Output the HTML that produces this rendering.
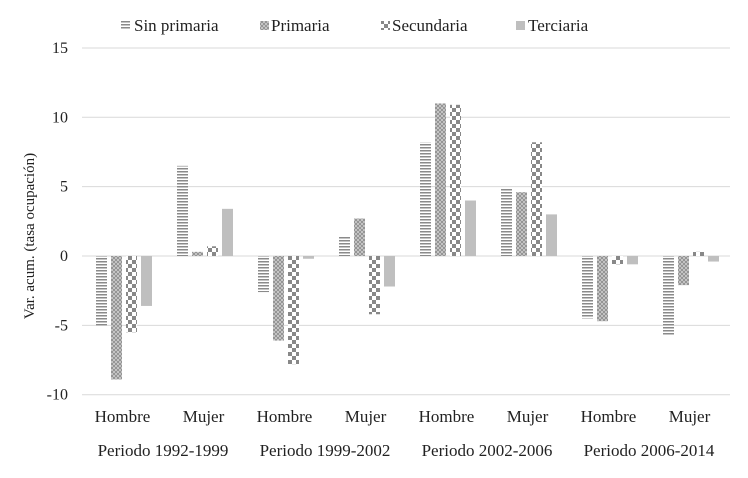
<!DOCTYPE html>
<html><head><meta charset="utf-8"><style>
body{margin:0;background:#fff;}
svg text{font-family:"Liberation Serif","DejaVu Serif",serif;fill:#222;}
</style></head><body>
<svg width="748" height="473" viewBox="0 0 748 473" font-family="Liberation Serif, serif">
<defs>
<pattern id="pH" width="4" height="3" patternUnits="userSpaceOnUse"><rect width="4" height="3" fill="#fff"/><rect width="4" height="1.5" fill="#8a8a8a"/></pattern>
<pattern id="pX" width="4" height="4" patternUnits="userSpaceOnUse"><rect width="4" height="4" fill="#d0d0d0"/><path d="M0 0L4 4M4 0L0 4" stroke="#8a8a8a" stroke-width="0.8"/></pattern>
<pattern id="pC" width="8" height="8" patternUnits="userSpaceOnUse"><rect width="8" height="8" fill="#fff"/><rect width="4" height="4" fill="#888"/><rect x="4" y="4" width="4" height="4" fill="#888"/></pattern>
</defs>
<g id="grid"></g>
<g id="bars"></g>
<g id="ylab"></g>
<g id="xlab"></g>
<text transform="translate(34,236) rotate(-90)" text-anchor="middle" font-size="15">Var. acum. (tasa ocupación)</text>
<g font-size="17">
<g><rect x="121" y="21" width="9" height="9" fill="url(#pH)"/><text x="134" y="31">Sin primaria</text></g>
<g><rect x="260" y="21" width="9" height="9" fill="url(#pX)"/><text x="271" y="31">Primaria</text></g>
<g><rect x="381" y="21" width="9" height="9" fill="url(#pC)"/><text x="392" y="31">Secundaria</text></g>
<g><rect x="516" y="21" width="9" height="9" fill="#bfbfbf"/><text x="528" y="31">Terciaria</text></g>
</g>
</svg>
<script>
const categories=["Hombre","Mujer","Hombre","Mujer","Hombre","Mujer","Hombre","Mujer"];
const periods=["Periodo 1992-1999","Periodo 1999-2002","Periodo 2002-2006","Periodo 2006-2014"];
const sinPrimaria=[-5.0,6.5,-2.6,1.4,8.2,4.9,-4.5,-5.7];
const primaria=[-8.9,0.3,-6.1,2.7,11.0,4.6,-4.7,-2.1];
const secundaria=[-5.5,0.7,-7.8,-4.2,10.9,8.2,-0.6,0.3];
const terciaria=[-3.6,3.4,-0.2,-2.2,4.0,3.0,-0.6,-0.4];
const yTicks=[15,10,5,0,-5,-10];
const NS="http://www.w3.org/2000/svg";
const x0=82,gw=81,y0=256,ppu=13.87;
const y=v=>y0-v*ppu;
function mk(t,a,p){const e=document.createElementNS(NS,t);for(const k in a)e.setAttribute(k,a[k]);p.appendChild(e);return e;}
const grid=document.getElementById('grid'),ylab=document.getElementById('ylab'),bars=document.getElementById('bars'),xlab=document.getElementById('xlab');
yTicks.forEach(t=>{
 const l=mk('line',{x1:x0,x2:730,y1:y(t),y2:y(t),stroke:'#d9d9d9','stroke-width':1},grid);
 
 
 const tx=mk('text',{x:68,y:y(t)+5,'text-anchor':'end','font-size':16},ylab);tx.textContent=t;
 
 
});
const series=[[sinPrimaria,'url(#pH)','sin-primaria'],[primaria,'url(#pX)','primaria'],[secundaria,'url(#pC)','secundaria'],[terciaria,'#bfbfbf','terciaria']];
categories.forEach((c,i)=>{
 series.forEach((s,j)=>{
  const v=s[0][i];const bx=x0+i*gw+14+j*15;
  const r=mk('rect',{x:bx,y:Math.min(y(v),y0),width:11,height:Math.abs(y(v)-y0),fill:s[1]},bars);
  
  
 });
 const t=mk('text',{x:x0+i*gw+gw/2,y:422,'text-anchor':'middle','font-size':17},xlab);t.textContent=c;
 
 
});
periods.forEach((p,i)=>{
 const t=mk('text',{x:x0+i*2*gw+gw,y:456,'text-anchor':'middle','font-size':17},xlab);t.textContent=p;
 
 
});
</script>
</body></html>
